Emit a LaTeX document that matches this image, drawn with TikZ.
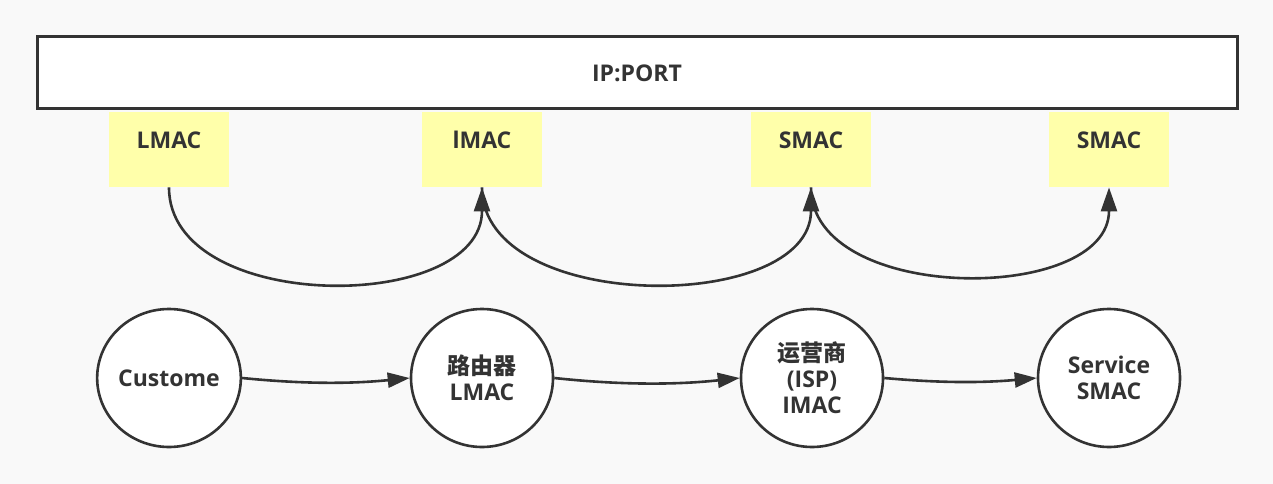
\documentclass[tikz,border=0pt]{standalone}
\usepackage{fontspec}
\setmainfont{Open Sans}
\newfontfamily\cjk{Noto Sans CJK SC}
\usetikzlibrary{arrows.meta,shapes.geometric}
\definecolor{ink}{HTML}{333333}
\definecolor{note}{HTML}{FFFFAA}
\definecolor{bg}{HTML}{F9F9F9}
\tikzset{
  txt/.style={font=\fontsize{23}{26}\selectfont\bfseries, text=ink},
  macbox/.style={txt, rectangle, fill=note, inner sep=0pt, minimum width=120pt,
     text width=120pt, align=center, text height=36pt, text depth=39pt, anchor=north},
  host/.style={txt, ellipse, draw=ink, line width=2.6pt, fill=white, inner sep=0pt,
     minimum width=142pt, minimum height=138pt, align=center},
  hop/.style={draw=ink, line width=2.6pt, -{Triangle[length=24pt,width=16pt]}},
  link/.style={draw=ink, line width=2.6pt, -{Triangle[length=22pt,width=15pt]}}
}
\begin{document}
\begin{tikzpicture}[x=1pt,y=-1pt]
\fill[bg] (0,0) rectangle (1273,484);
\useasboundingbox (0,0) rectangle (1273,484);
\node[txt, draw=ink, line width=3pt, fill=white, minimum width=1200pt, minimum height=72pt, inner sep=0pt]
  (ip) at (637,73) {\raisebox{-2pt}{IP:PORT}};
\node[macbox] (m1) at (169,112) {LMAC};
\node[macbox] (m2) at (482,112) {lMAC};
\node[macbox] (m3) at (811,112) {SMAC};
\node[macbox] (m4) at (1109,112) {SMAC};
\draw[hop] (m1.south) .. controls +(0,127) and +(0,127) .. (m2.south);
\draw[hop] (m2.south) .. controls +(0,127) and +(0,127) .. (m3.south);
\draw[hop] (m3.south) .. controls +(0,117) and +(0,117) .. (m4.south);
\node[host] (c1) at (169,378) {Custome};
\node[host] (c2) at (482,378) {{\cjk 路由器}\\LMAC};
\node[host] (c3) at (812,378) {{\cjk 运营商}\\(ISP)\\IMAC};
\node[host] (c4) at (1109,378) {Service\\SMAC};
\draw[link] (c1.east) .. controls +(60,6) and +(-60,6) .. (c2.west);
\draw[link] (c2.east) .. controls +(65,7) and +(-65,7) .. (c3.west);
\draw[link] (c3.east) .. controls +(55,5) and +(-55,5) .. (c4.west);
\end{tikzpicture}
\end{document}
